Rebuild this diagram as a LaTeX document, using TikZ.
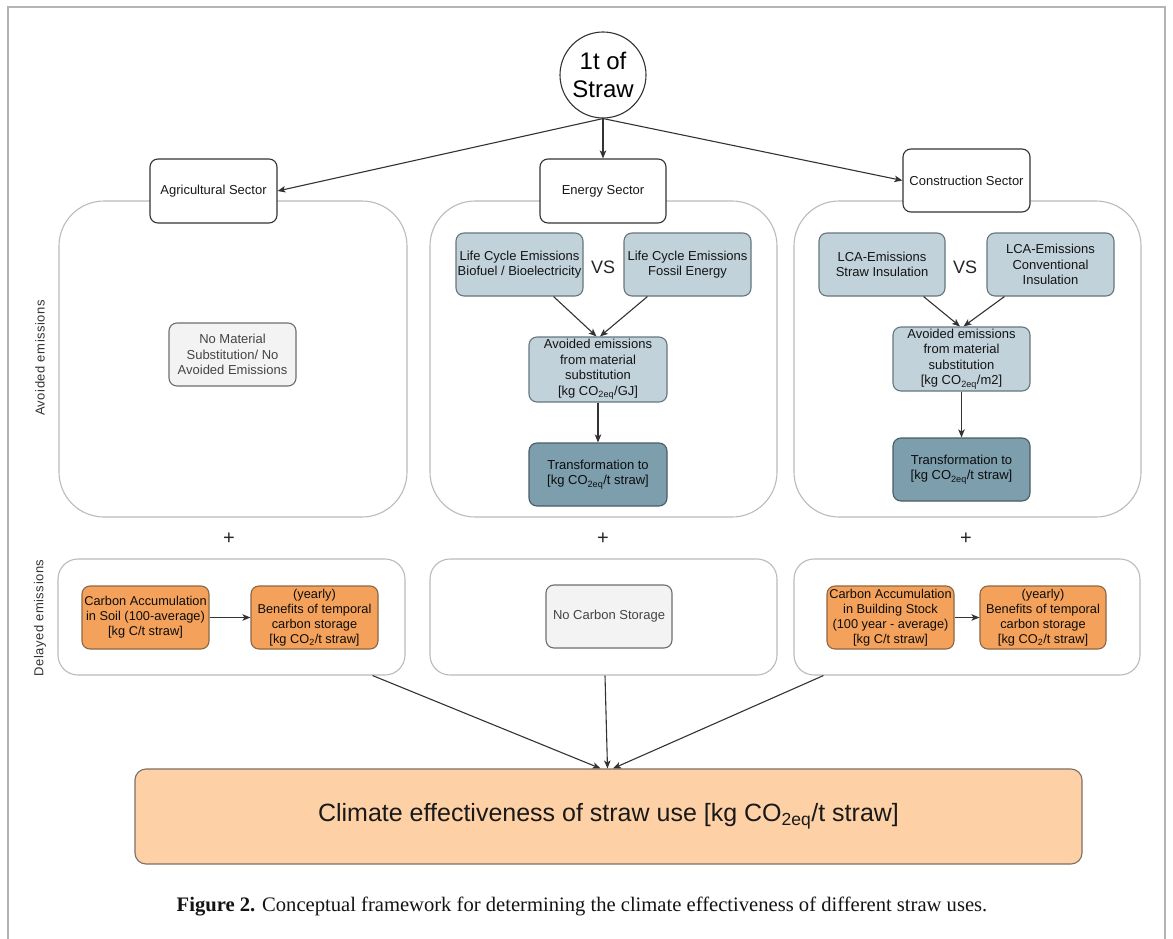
\documentclass[tikz,border=0pt]{standalone}
\usepackage{fontspec}
\setmainfont{Liberation Sans}
\newfontfamily\capfont{Liberation Serif}
\newfontfamily\spacedfont[LetterSpace=4]{Liberation Sans}
\usetikzlibrary{arrows.meta,calc}
\definecolor{framegray}{HTML}{B4B4B4}
\definecolor{contgray}{HTML}{BBBBBB}
\definecolor{lineblack}{HTML}{333333}
\definecolor{lightblue}{HTML}{C1D2DB}
\definecolor{lightblueb}{HTML}{66767D}
\definecolor{darkblue}{HTML}{7C9EAD}
\definecolor{darkblueb}{HTML}{4C5C63}
\definecolor{orangef}{HTML}{F4A25B}
\definecolor{orangeb}{HTML}{8C6642}
\definecolor{peach}{HTML}{FDD1A5}
\definecolor{peachb}{HTML}{7E6F62}
\definecolor{grayf}{HTML}{F3F3F3}
\definecolor{grayb}{HTML}{6E6E6E}
\definecolor{textgray}{HTML}{444444}
\tikzset{
  container/.style={draw=contgray, line width=1.1pt, fill=white, inner sep=0pt},
  bigcont/.style={container, rounded corners=45pt},
  smallcont/.style={container, rounded corners=20pt},
  basebox/.style={draw, line width=1.1pt, rounded corners=8pt, inner sep=0pt, align=center,
    font=\fontsize{13}{15.5}\selectfont},
  sectorbox/.style={basebox, draw=lineblack, fill=white, text=black!90},
  bluebox/.style={basebox, draw=lightblueb, fill=lightblue, text=black!92},
  dbluebox/.style={basebox, draw=darkblueb, fill=darkblue, text=black!95},
  orangebox/.style={basebox, draw=orangeb, fill=orangef, text=black!95,
    font=\fontsize{12.8}{15}\selectfont},
  graybox/.style={basebox, draw=grayb, fill=grayf, text=textgray},
  sidelabel/.style={rotate=90, text=black!80, font=\spacedfont\fontsize{13}{14}\selectfont},
  arr/.style={draw=lineblack, line width=1.1pt, -{Stealth[length=8pt,width=6.5pt,inset=2pt]}},
  plussign/.style={font=\fontsize{20}{20}\selectfont, text=black!85},
  vslabel/.style={font=\fontsize{18}{18}\selectfont, text=black!85}
}
\begin{document}
\begin{tikzpicture}[x=1pt,y=-1pt]
\useasboundingbox (0,0) rectangle (1173,939);
\fill[white] (0,0) rectangle (1173,939);
% frame
\draw[framegray, line width=1.5pt] (8,939) -- (8,7) -- (1165,7) -- (1165,939);

% containers (avoided emissions)
\node[bigcont, minimum width=348pt, minimum height=316pt] (contA) at (233,359) {};
\node[bigcont, minimum width=347pt, minimum height=316pt] (contE) at (603.5,359) {};
\node[bigcont, minimum width=347pt, minimum height=316pt] (contC) at (967.5,359) {};

% containers (delayed emissions)
\node[smallcont, minimum width=347pt, minimum height=116pt] (delA) at (231.5,617) {};
\node[smallcont, minimum width=347pt, minimum height=116pt] (delE) at (603.5,617) {};
\node[smallcont, minimum width=346pt, minimum height=116pt] (delC) at (967,617) {};

% top circle
\node[draw=lineblack, line width=1.1pt, fill=white, circle, minimum size=86pt, inner sep=0pt,
  align=center, font=\fontsize{24}{28.5}\selectfont] (circ) at (603,75) {1t of\\Straw};

% sector boxes
\node[sectorbox, minimum width=127pt, minimum height=64pt] (agri) at (213.5,191) {Agricultural Sector};
\node[sectorbox, minimum width=126pt, minimum height=64pt] (energy) at (603,191) {Energy Sector};
\node[sectorbox, minimum width=127pt, minimum height=63pt] (constr) at (966.5,180.5) {Construction Sector};

\draw[arr] (circ.south) -- (agri.east);
\draw[arr] (circ.south) -- (energy.north);
\draw[arr] (circ.south) -- (constr.west);

% agricultural
\node[graybox, minimum width=127pt, minimum height=63pt] (nomat) at (232.5,354.5)
  {No Material\\Substitution/ No\\Avoided Emissions};

% energy
\node[bluebox, minimum width=127pt, minimum height=63pt] (bio) at (519.5,264.5)
  {Life Cycle Emissions\\Biofuel / Bioelectricity};
\node[bluebox, minimum width=127pt, minimum height=63pt] (fossil) at (687.5,264.5)
  {Life Cycle Emissions\\Fossil Energy};
\node[vslabel] (vsE) at (603,267) {VS};
\node[bluebox, minimum width=138pt, minimum height=65pt] (avE) at (598,369.5)
  {Avoided emissions\\from material\\substitution\\{}[kg CO\textsubscript{2eq}/GJ]};
\node[dbluebox, minimum width=138pt, minimum height=63pt] (trE) at (598,474.5)
  {Transformation to\\{}[kg CO\textsubscript{2eq}/t straw]};
\draw[arr] ([xshift=-30pt]bio.south east) -- ([xshift=-1.5pt]avE.north);
\draw[arr] ([xshift=24pt]fossil.south west) -- ([xshift=2pt]avE.north);
\draw[arr] (avE.south) -- (trE.north);

% construction
\node[bluebox, minimum width=126pt, minimum height=63pt] (strawI) at (882,264.5)
  {LCA-Emissions\\Straw Insulation};
\node[bluebox, minimum width=127pt, minimum height=63pt] (convI) at (1050.5,264.5)
  {LCA-Emissions\\Conventional\\Insulation};
\node[vslabel] (vsC) at (965,267) {VS};
\node[bluebox, minimum width=137pt, minimum height=64pt] (avC) at (961.5,359)
  {Avoided emissions\\from material\\substitution\\{}[kg CO\textsubscript{2eq}/m2]};
\node[dbluebox, minimum width=137pt, minimum height=63pt] (trC) at (961.5,469.5)
  {Transformation to\\{}[kg CO\textsubscript{2eq}/t straw]};
\draw[arr] ([xshift=-22pt]strawI.south east) -- ([xshift=-1.5pt]avC.north);
\draw[arr] ([xshift=18pt]convI.south west) -- ([xshift=2pt]avC.north);
\draw[arr] (avC.south) -- (trC.north);

% plus signs
\node[plussign] (plusA) at (229,539) {+};
\node[plussign] (plusE) at (603,539) {+};
\node[plussign] (plusC) at (966,539) {+};

% delayed emissions
\node[orangebox, minimum width=127pt, minimum height=63pt] (soil) at (145.5,617.5)
  {Carbon Accumulation\\in Soil (100-average)\\{}[kg C/t straw]};
\node[orangebox, minimum width=127pt, minimum height=63pt] (benA) at (314.5,617.5)
  {(yearly)\\Benefits of temporal\\carbon storage\\{}[kg CO\textsubscript{2}/t straw]};
\draw[arr] (soil.east) -- (benA.west);
\node[graybox, minimum width=126pt, minimum height=63pt] (nocarb) at (609,616.5) {No Carbon Storage};
\node[orangebox, minimum width=127pt, minimum height=63pt] (stock) at (890.5,617.5)
  {Carbon Accumulation\\in Building Stock\\(100 year - average)\\{}[kg C/t straw]};
\node[orangebox, minimum width=126pt, minimum height=63pt] (benC) at (1043,617.5)
  {(yearly)\\Benefits of temporal\\carbon storage\\{}[kg CO\textsubscript{2}/t straw]};
\draw[arr] (stock.east) -- (benC.west);

% side labels
\node[sidelabel] (labAv) at (40,358) {Avoided emissions};
\node[sidelabel] (labDel) at (40,618) {Delayed emissions};

% final box
\node[basebox, draw=peachb, fill=peach, rounded corners=11pt, minimum width=947pt, minimum height=95pt,
  font=\fontsize{25}{29}\selectfont, text=black!90] (clim) at (608.5,816.5)
  {Climate effectiveness of straw use [kg CO\textsubscript{2eq}/t straw]};
\draw[arr] ([xshift=-33pt]delA.south east) -- ([xshift=-8pt]clim.north);
\draw[arr] ([xshift=1.5pt]delE.south) -- ([xshift=-1pt]clim.north);
\draw[arr] ([xshift=30pt]delC.south west) -- ([xshift=4.5pt]clim.north);

% caption
\node[font=\capfont\fontsize{20.6}{24}\selectfont, text=black!92, anchor=base, inner sep=0pt] (caption) at (582,911)
  {\textbf{Figure 2.} Conceptual framework for determining the climate effectiveness of different straw uses.};
\end{tikzpicture}
\end{document}
